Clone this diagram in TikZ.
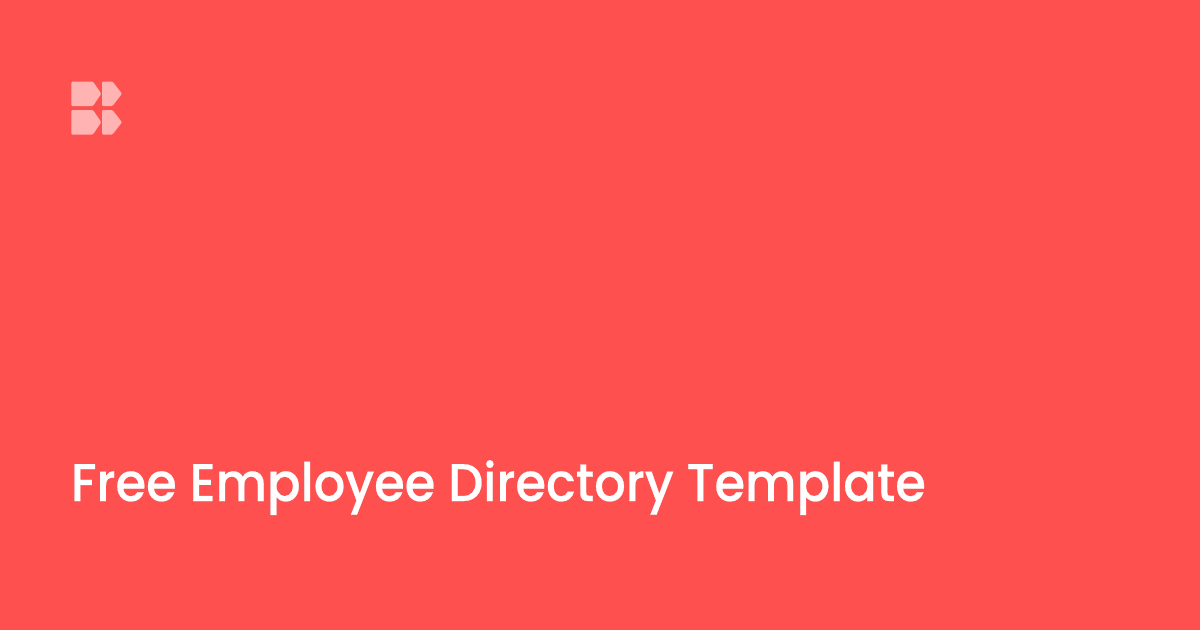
\documentclass[tikz,border=0pt]{standalone}
\usepackage{fontspec}
\setmainfont{Poppins Medium}[FakeStretch=0.935,FakeBold=0.4]
\definecolor{bgred}{HTML}{FF5050}
\definecolor{logopink}{HTML}{FFB3B3}
\begin{document}
\begin{tikzpicture}[x=1pt,y=-1pt,
  logopart/.style={fill=logopink,draw=none,rounded corners=1.2pt},
  titletext/.style={anchor=base west,inner sep=0pt,outer sep=0pt,text=white}]
\fill[bgred] (0,0) rectangle (1200,630);
\useasboundingbox (0,0) rectangle (1200,630);
\foreach \dy in {0,28.5}{
  \fill[logopart] (71.3,81.5+\dy) -- (93,81.5+\dy) -- (101.3,93.7+\dy) -- (93,106+\dy) -- (71.3,106+\dy) -- cycle;
  \fill[logopart] (102,81.5+\dy) -- (112.5,81.5+\dy) -- (122,93.7+\dy) -- (112.5,106+\dy) -- (102,106+\dy) -- cycle;
}
\node[titletext,font=\fontsize{53}{60}\selectfont] (title) at (71,501) {Free Employee Directory Template};
\end{tikzpicture}
\end{document}
